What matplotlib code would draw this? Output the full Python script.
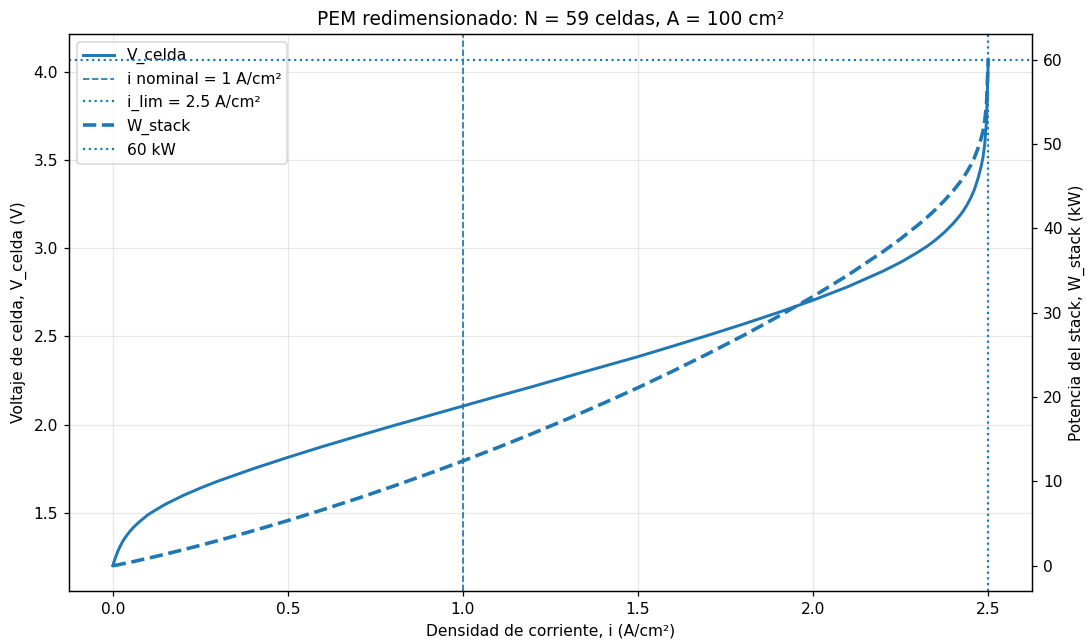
import matplotlib
matplotlib.use("Agg")
import matplotlib.pyplot as plt

# stack parameters
N_celdas = 59
A_cm2 = 100
i_nom = 1.0
i_lim = 2.5
W_max = 60

# polarization curve: current density (A/cm2) and cell voltage (V)
i_dens = [0.0, 0.0025, 0.005, 0.01, 0.015, 0.02, 0.03, 0.04, 0.05, 0.06,
          0.075, 0.1, 0.125, 0.15, 0.2, 0.25, 0.3, 0.4, 0.5, 0.6, 0.7,
          0.8, 0.9, 1.0, 1.1, 1.2, 1.3, 1.4, 1.5, 1.6, 1.7, 1.8, 1.9, 2.0,
          2.1, 2.2, 2.25, 2.3, 2.325, 2.35, 2.375, 2.4, 2.42, 2.43, 2.44,
          2.45, 2.46, 2.47, 2.48, 2.485, 2.49, 2.495, 2.5]
V_celda = [1.200, 1.215, 1.230, 1.258, 1.284, 1.306, 1.343, 1.372, 1.397,
           1.419, 1.447, 1.488, 1.519, 1.548, 1.597, 1.640, 1.679, 1.749,
           1.814, 1.876, 1.935, 1.993, 2.049, 2.105, 2.161, 2.216, 2.273,
           2.329, 2.385, 2.445, 2.506, 2.569, 2.635, 2.705, 2.782, 2.870,
           2.920, 2.978, 3.010, 3.047, 3.090, 3.140, 3.187, 3.215, 3.247,
           3.285, 3.330, 3.390, 3.465, 3.515, 3.590, 3.720, 4.070]
# stack power (kW)
W_stack = [0.0, 0.02, 0.04, 0.07, 0.11, 0.15, 0.24, 0.32, 0.41, 0.50,
           0.64, 0.88, 1.12, 1.37, 1.88, 2.42, 2.97, 4.13, 5.35, 6.64,
           7.99, 9.41, 10.88, 12.42, 14.02, 15.69, 17.43, 19.24, 21.11,
           23.08, 25.14, 27.28, 29.54, 31.92, 34.47, 37.25, 38.76, 40.41,
           41.29, 42.25, 43.30, 44.46, 45.50, 46.09, 46.74, 47.48, 48.33,
           49.40, 50.70, 51.53, 52.74, 54.76, 60.03]

fig, ax1 = plt.subplots(figsize=(1086 / 112, 642 / 112), dpi=112)
fig.subplots_adjust(left=0.0635, right=0.9503, top=0.947, bottom=0.0794)

l1, = ax1.plot(i_dens, V_celda, lw=1.9, color="C0", label="V_celda")
l2 = ax1.axvline(i_nom, ls="--", lw=1.1, color="C0", label=f"i nominal = {i_nom:g} A/cm²")
l3 = ax1.axvline(i_lim, ls=":", lw=1.4, color="C0", label=f"i_lim = {i_lim:g} A/cm²")
ax1.set_xlabel("Densidad de corriente, i (A/cm²)")
ax1.set_ylabel("Voltaje de celda, V_celda (V)")
ax1.grid(True, alpha=0.3)

ax2 = ax1.twinx()
l4, = ax2.plot(i_dens, W_stack, ls="--", lw=2.3, color="C0", label="W_stack")
l5 = ax2.axhline(W_max, ls=":", lw=1.4, color="C0", label=f"{W_max} kW")
ax2.set_ylabel("Potencia del stack, W_stack (kW)")

handles = [l1, l2, l3, l4, l5]
ax1.legend(handles, [h.get_label() for h in handles], loc="upper left")
ax1.set_title(f"PEM redimensionado: N = {N_celdas} celdas, A = {A_cm2} cm²")

plt.savefig("out.png", dpi=112)
